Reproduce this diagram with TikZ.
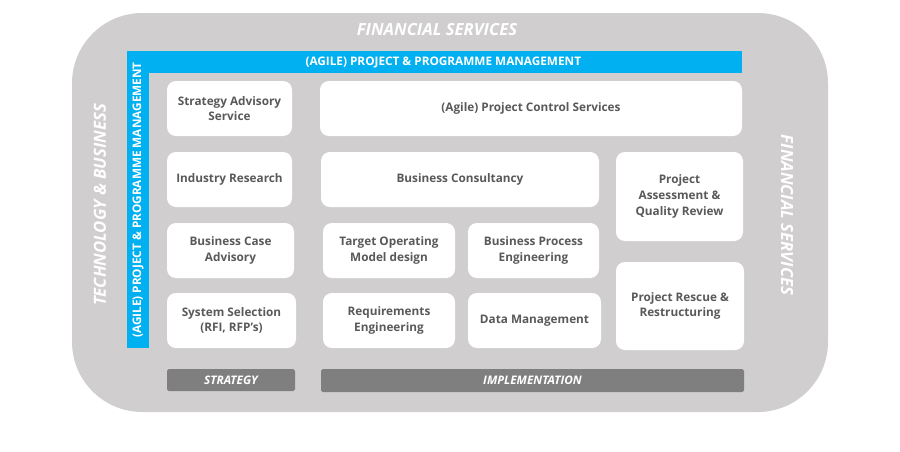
\documentclass[tikz,border=0pt]{standalone}
\usepackage{fontspec}
\setmainfont{Open Sans}
\definecolor{mgray}{HTML}{D0CECE}
\definecolor{mdark}{HTML}{7F7F7F}
\definecolor{mtext}{HTML}{595959}
\definecolor{mblue}{HTML}{00B0F0}
\tikzstyle{service} = [rectangle, rounded corners=5pt, fill=white, text=mtext, font=\fontsize{6.7}{9}\selectfont\bfseries, align=center, inner sep=0pt]
\tikzstyle{phase} = [rectangle, rounded corners=1pt, fill=mdark, text=white, font=\fontsize{6.7}{8}\selectfont\bfseries\itshape, inner sep=0pt]
\tikzstyle{banner} = [fill=mblue, text=white, font=\fontsize{6.7}{8}\selectfont\bfseries, inner sep=0pt]
\tikzstyle{frame} = [text=white, font=\fontsize{9.5}{12}\selectfont\bfseries\itshape]
\begin{document}
\begin{tikzpicture}[x=0.02cm, y=-0.02cm]
  \useasboundingbox (0,0) rectangle (900,451);
  \fill[mgray, rounded corners=40pt] (72,13) rectangle (828,412);
  \node (fstop) [frame] at (437,30) {FINANCIAL SERVICES};
  \node (fsright) [frame, rotate=-90] at (787,215) {FINANCIAL SERVICES};
  \node (techbus) [frame, rotate=90] at (100,205) {TECHNOLOGY \& BUSINESS};
  % blue management bars
  \node (pmtop) [banner, minimum width=615*0.02cm, minimum height=22*0.02cm] at (434.5,62) {\hspace*{10pt}(AGILE) PROJECT \& PROGRAMME MANAGEMENT};
  \fill[mblue] (127,51) rectangle (149,348);
  \node (pmleft) [banner, rotate=90] at (138,200) {(AGILE) PROJECT \& PROGRAMME MANAGEMENT};
  % services
  \foreach \name/\x/\y/\w/\h/\txt in {
      sas/229.5/108.5/125/55/{Strategy Advisory\\Service},
      pcs/531/108.5/422/55/{(Agile) Project Control Services},
      ir/229.5/179.5/125/55/{Industry Research},
      bc/460/179.5/278/55/{Business Consultancy},
      paq/679.5/196.5/127/89/{Project\\Assessment \&\\Quality Review},
      bca/230.5/250.5/127/55/{Business Case\\Advisory},
      tom/389/250.5/132/55/{Target Operating\\Model design},
      bpe/533.5/250.5/131/55/{Business Process\\Engineering},
      prr/680/306/128/88/{Project Rescue \&\\Restructuring},
      sys/231.5/320.5/129/55/{System Selection\\(RFI, RFP’s)},
      req/389/320.5/132/55/{Requirements\\Engineering},
      dm/534.5/320.5/133/55/{Data Management}}
    \node (\name) [service, minimum width=\w*0.02cm, minimum height=\h*0.02cm] at (\x,\y) {\txt};
  % phases
  \node (strat) [phase, minimum width=128*0.02cm, minimum height=22*0.02cm] at (231,380) {STRATEGY};
  \node (impl) [phase, minimum width=423*0.02cm, minimum height=23*0.02cm] at (532.5,380.5) {IMPLEMENTATION};
\end{tikzpicture}
\end{document}
